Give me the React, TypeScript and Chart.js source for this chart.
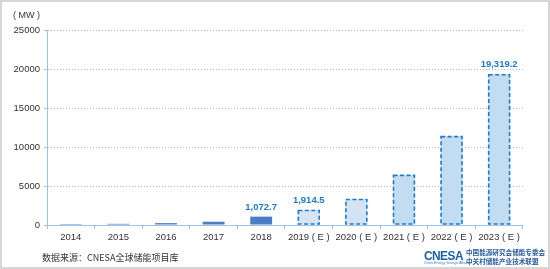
import React, { useEffect, useRef } from "react";
import { Chart, registerables } from "chart.js";

Chart.register(...registerables);

const categories = ["2014", "2015", "2016", "2017", "2018", "2019 ( E )", "2020 ( E )", "2021 ( E )", "2022 ( E )", "2023 ( E )"];
const values = [120, 150, 240, 420, 1072.7, 1914.5, 3330, 6420, 11400, 19319.2];
const forecast = [false, false, false, false, false, true, true, true, true, true];
const labelled = [false, false, false, false, true, true, false, false, false, true];
const yTicks = [0, 5000, 10000, 15000, 20000, 25000];

const fills = ["#4a7ec4", "#4a7ec4", "#4a7ec4", "#4a7ec4", "#4a7ec4", "#d6e4f3", "#d3e3f3", "#c2dcf1", "#c2dcf1", "#c2dcf1"];

function fmt(v: number) {
  return v.toLocaleString("en-US", { minimumFractionDigits: 1, maximumFractionDigits: 1 });
}

const FONT = "'Liberation Sans', Arial, sans-serif";

const overlayPlugin = {
  id: "overlay",
  afterDatasetsDraw(chart: any) {
    const ctx = chart.ctx;
    const meta = chart.getDatasetMeta(0);
    meta.data.forEach((bar: any, i: number) => {
      const p = bar.getProps(["x", "y", "base", "width"], true);
      const left = p.x - p.width / 2;
      const top = p.y;
      if (forecast[i]) {
        ctx.save();
        ctx.strokeStyle = "#1f7ad0";
        ctx.lineWidth = 1.6;
        ctx.setLineDash([4, 2.5]);
        ctx.strokeRect(left + 0.5, top + 0.5, p.width - 1, p.base - top - 1);
        ctx.restore();
      }
      if (labelled[i]) {
        ctx.save();
        ctx.fillStyle = "#1f7ac8";
        ctx.font = "bold 9.5px " + FONT;
        ctx.textAlign = "center";
        ctx.textBaseline = "alphabetic";
        ctx.fillText(fmt(values[i]), p.x, top - 7);
        ctx.restore();
      }
    });
  },
};

export default function App() {
  const ref = useRef<HTMLCanvasElement>(null);
  useEffect(() => {
    document.body.style.margin = "0";
    const chart = new Chart(ref.current!, {
      type: "bar",
      data: {
        labels: categories,
        datasets: [
          {
            data: values,
            backgroundColor: fills,
            borderWidth: 0,
            barPercentage: 0.46,
            categoryPercentage: 1,
          },
        ],
      },
      options: {
        animation: false,
        responsive: false,
        devicePixelRatio: 1,
        layout: { padding: { top: 30, right: 0, left: 0, bottom: 0 } },
        plugins: { legend: { display: false }, tooltip: { enabled: false } },
        scales: {
          x: {
            grid: { display: true, drawOnChartArea: false, drawTicks: true, tickLength: 4, color: "#9dc3e6", offset: true },
            border: { color: "#9dc3e6", width: 1 },
            ticks: { color: "#333", font: { size: 9.5, family: FONT }, padding: 3, maxRotation: 0, autoSkip: false },
            afterFit: (s: any) => { s.height = 44; },
          },
          y: {
            min: 0,
            max: 25000,
            afterBuildTicks: (s: any) => { s.ticks = yTicks.map((v) => ({ value: v })); },
            grid: {
              color: (c: any) => (c.tick && c.tick.value === 0 ? "rgba(0,0,0,0)" : "#8fc2ec"),
              lineWidth: 1,
              drawTicks: true,
              tickLength: 3,
              tickColor: "#9dc3e6",
            },
            border: { color: "#9dc3e6", width: 1, dash: [1, 2] },
            ticks: { color: "#333", font: { size: 9.5, family: FONT }, padding: 4, callback: (v: any) => String(v) },
            afterFit: (s: any) => { s.width = 47; },
          },
        },
      },
      plugins: [overlayPlugin],
    });
    return () => chart.destroy();
  }, []);

  return (
    <div style={{ position: "absolute", left: 0, top: 0, width: 550, height: 269, background: "#fff", boxSizing: "border-box", border: "2px solid #d6d6d6", overflow: "hidden" }}>
      <canvas ref={ref} width={523} height={269} style={{ position: "absolute", left: -2, top: -2 }} />
      <div style={{ position: "absolute", left: 11, top: 8, fontSize: 9, color: "#333", fontFamily: FONT, whiteSpace: "pre" }}>( MW )</div>
      <div style={{ position: "absolute", left: 40, top: 250, fontSize: 9, lineHeight: "12px", color: "#333", fontFamily: "'Noto Sans CJK SC', sans-serif", whiteSpace: "nowrap" }}>数据来源：CNESA全球储能项目库</div>
      <div style={{ position: "absolute", left: 422, top: 247, fontFamily: FONT, fontWeight: 900, fontSize: 13.5, color: "#1d5fa6", letterSpacing: -0.6, lineHeight: "14px", transform: "scaleX(0.88)", transformOrigin: "left top" }}>CNESA</div>
      <div style={{ position: "absolute", left: 422, top: 259, fontFamily: FONT, fontSize: 3.5, color: "#4a78b5", whiteSpace: "nowrap" }}>China Energy Storage Alliance</div>
      <div style={{ position: "absolute", left: 464, top: 246, fontFamily: "'Noto Sans CJK SC', sans-serif", fontWeight: 700, fontSize: 6.6, color: "#2b5d9e", lineHeight: "9px", whiteSpace: "nowrap" }}>
        中国能源研究会储能专委会<br />中关村储能产业技术联盟
      </div>
    </div>
  );
}
